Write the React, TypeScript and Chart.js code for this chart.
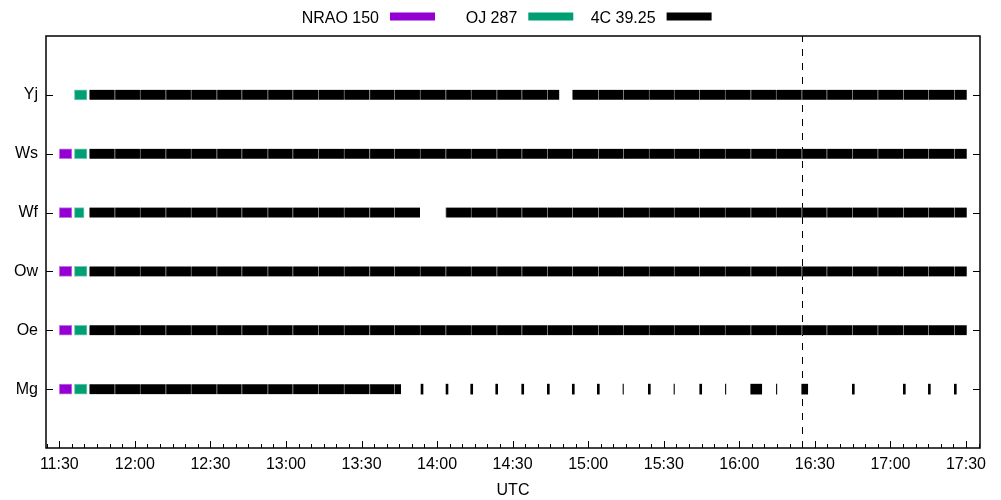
import { useEffect, useRef } from 'react';
import { Chart, registerables } from 'chart.js';

Chart.register(...registerables);

// ---- data ----
const stations = ['Yj', 'Ws', 'Wf', 'Ow', 'Oe', 'Mg']; // top to bottom
const xTickLabels = ['11:30', '12:00', '12:30', '13:00', '13:30', '14:00', '14:30', '15:00', '15:30', '16:00', '16:30', '17:00', '17:30'];
const xMinTime = '11:24:43';
const xMaxTime = '17:35:34';
const markerTime = '16:25:00';

const sourceNames = ['NRAO 150', 'OJ 287', '4C 39.25'];
const sourceColors = ['#9400d3', '#009e73', '#000000'];

const nrao150Stations = ['Ws', 'Wf', 'Ow', 'Oe', 'Mg'];
const nrao150Scan = ['11:30:00', '11:35:00'];

const oj287Stations = ['Yj', 'Ws', 'Wf', 'Ow', 'Oe', 'Mg'];
const oj287Ends = ['11:41:00', '11:41:00', '11:39:50', '11:41:00', '11:41:00', '11:41:00'];
const oj287Start = '11:36:00';

const scanStarts4C = [
  '11:41:55', '11:52:00', '12:02:03', '12:12:15', '12:22:17', '12:32:30', '12:42:25', '12:52:45',
  '13:02:40', '13:12:50', '13:23:02', '13:33:10', '13:43:01', '13:53:13', '14:03:25', '14:13:28',
  '14:23:41', '14:33:36', '14:43:46', '14:53:41', '15:04:01', '15:13:57', '15:24:09', '15:34:05',
  '15:44:07', '15:54:20', '16:04:32', '16:14:35', '16:24:47', '16:34:43', '16:44:52', '16:54:58',
  '17:05:08', '17:15:04', '17:25:23',
];
const lastScanEnd4C = '17:30:18';

const wfMissedScans = ['13:53:13'];
const yjCutScan = ['14:43:46', '14:48:32'];
const mgLastFullScan = '13:33:10';
const mgCutScan = ['13:43:01', '13:45:41'];
const mgShortScans = [
  ['13:53:37', '13:54:25'], ['14:03:33', '14:04:20'], ['14:13:21', '14:14:09'], ['14:23:17', '14:24:04'],
  ['14:33:36', '14:34:24'], ['14:43:46', '14:44:34'], ['14:53:41', '14:54:29'], ['15:03:37', '15:04:25'],
  ['15:13:49', '15:13:59'], ['15:23:52', '15:24:40'], ['15:34:04', '15:34:14'], ['15:44:17', '15:45:04'],
  ['15:54:29', '15:54:39'], ['16:04:32', '16:08:54'], ['16:14:44', '16:14:54'], ['16:24:47', '16:27:10'],
  ['16:44:52', '16:45:40'], ['17:05:08', '17:05:55'], ['17:15:04', '17:15:51'], ['17:25:23', '17:26:10'],
];

// ---- helpers ----
const toMin = (t: string) => {
  const p = t.split(':').map(Number);
  return p[0] * 60 + p[1] + (p[2] || 0) / 60 - (11 * 60 + 30);
};
const rowOf = (st: string) => stations.length - stations.indexOf(st);

function scansFor(st: string): [string, string][] {
  const out: [string, string][] = [];
  for (let i = 0; i < scanStarts4C.length; i++) {
    const s = scanStarts4C[i];
    const e = i + 1 < scanStarts4C.length ? scanStarts4C[i + 1] : lastScanEnd4C;
    if (st === 'Wf' && wfMissedScans.includes(s)) continue;
    if (st === 'Yj' && s === yjCutScan[0]) { out.push([s, yjCutScan[1]]); continue; }
    if (st === 'Mg') {
      if (toMin(s) <= toMin(mgLastFullScan)) out.push([s, e]);
      else if (s === mgCutScan[0]) out.push([s, mgCutScan[1]]);
      continue;
    }
    out.push([s, e]);
  }
  return out;
}

const FONT = "'Liberation Sans', Arial, Helvetica, sans-serif";

export default function App() {
  const ref = useRef<HTMLCanvasElement | null>(null);

  useEffect(() => {
    document.body.style.margin = '0';
    const canvas = ref.current;
    if (!canvas) return;

    const nraoData = nrao150Stations.map((st) => ({ x: [toMin(nrao150Scan[0]), toMin(nrao150Scan[1])], y: rowOf(st) }));
    const ojData = oj287Stations.map((st, i) => ({ x: [toMin(oj287Start), toMin(oj287Ends[i])], y: rowOf(st) }));
    const c4Data: any[] = [];
    stations.forEach((st) => {
      scansFor(st).forEach(([s, e]) => c4Data.push({ x: [toMin(s), toMin(e)], y: rowOf(st) }));
    });
    const c4Short = mgShortScans.map(([s, e]) => ({ x: [toMin(s), toMin(e)], y: rowOf('Mg') }));

    const frame = {
      id: 'frame',
      beforeDatasetsDraw(chart: any) {
        const { ctx, chartArea, scales } = chart;
        const x = Math.round(scales.x.getPixelForValue(toMin(markerTime))) + 0.5;
        ctx.save();
        ctx.strokeStyle = '#000';
        ctx.lineWidth = 1;
        ctx.setLineDash([7, 7]);
        ctx.beginPath();
        ctx.moveTo(x, chartArea.bottom);
        ctx.lineTo(x, chartArea.top);
        ctx.stroke();
        ctx.restore();
      },
      afterDraw(chart: any) {
        const { ctx, chartArea, scales } = chart;
        const { left, right, top, bottom } = chartArea;
        ctx.save();
        ctx.strokeStyle = '#000';
        ctx.lineWidth = 1;
        ctx.beginPath();
        // x ticks (inward, bottom)
        xTickLabels.forEach((l) => {
          const px = Math.round(scales.x.getPixelForValue(toMin(l))) + 0.5;
          ctx.moveTo(px, bottom);
          ctx.lineTo(px, bottom - 7);
        });
        for (let m = Math.ceil(toMin(xMinTime) / 5) * 5; m <= toMin(xMaxTime); m += 5) {
          if (m % 30 === 0) continue;
          const px = Math.round(scales.x.getPixelForValue(m)) + 0.5;
          ctx.moveTo(px, bottom);
          ctx.lineTo(px, bottom - 4);
        }
        // y ticks (inward, both sides)
        stations.forEach((st) => {
          const py = Math.round(scales.y.getPixelForValue(rowOf(st))) + 0.5;
          ctx.moveTo(left, py);
          ctx.lineTo(left + 7, py);
          ctx.moveTo(right, py);
          ctx.lineTo(right - 7, py);
        });
        ctx.stroke();
        ctx.lineWidth = 1.5;
        ctx.strokeRect(Math.round(left), Math.round(top), Math.round(right) - Math.round(left), Math.round(bottom) - Math.round(top));
        // legend
        ctx.font = `16px ${FONT}`;
        ctx.textAlign = 'right';
        ctx.textBaseline = 'alphabetic';
        const cx = (left + right) / 2;
        sourceNames.forEach((name, i) => {
          const x0 = cx - 123 + i * 138.3;
          ctx.fillStyle = '#000';
          ctx.fillText(name, x0 - 11, 22.5);
          ctx.fillStyle = sourceColors[i];
          ctx.fillRect(x0, 12.5, 45, 8);
        });
        ctx.restore();
      },
    };

    const chart = new Chart(canvas, {
      type: 'bar',
      data: {
        datasets: [
          {
            label: sourceNames[0], data: nraoData as any, backgroundColor: sourceColors[0],
            borderColor: 'rgba(148,0,211,0.55)', borderWidth: 1, borderSkipped: false,
            grouped: false, barThickness: 10,
          } as any,
          {
            label: sourceNames[1], data: ojData as any, backgroundColor: sourceColors[1],
            borderColor: 'rgba(0,158,115,0.55)', borderWidth: 1, borderSkipped: false,
            grouped: false, barThickness: 10,
          } as any,
          {
            label: sourceNames[2], data: c4Data, backgroundColor: sourceColors[2],
            borderColor: '#7a7a7a', borderWidth: { left: 1, right: 0, top: 0, bottom: 0 }, borderSkipped: false,
            grouped: false, barThickness: 10,
          } as any,
          {
            label: sourceNames[2] + ' short', data: c4Short, backgroundColor: sourceColors[2],
            borderWidth: 0, grouped: false, barThickness: 10,
          } as any,
        ],
      },
      options: {
        indexAxis: 'y',
        animation: false,
        responsive: false,
        maintainAspectRatio: false,
        layout: { padding: { top: 36, right: 21, left: 0, bottom: 0 } },
        plugins: { legend: { display: false }, tooltip: { enabled: false } },
        scales: {
          x: {
            type: 'linear',
            min: toMin(xMinTime),
            max: toMin(xMaxTime),
            offset: false,
            grid: { display: false, drawTicks: false },
            border: { display: false },
            ticks: {
              padding: 7,
              color: '#000',
              font: { family: FONT, size: 16 },
              maxRotation: 0,
              autoSkip: false,
              callback: (v: any) => xTickLabels.find((l) => Math.abs(toMin(l) - Number(v)) < 1e-6) ?? '',
            },
            afterBuildTicks: (s: any) => { s.ticks = xTickLabels.map((l) => ({ value: toMin(l) })); },
            afterFit: (s: any) => { s.height = 52; },
            title: { display: true, text: 'UTC', color: '#000', font: { family: FONT, size: 16 }, padding: { top: 0, bottom: 0 } },
          },
          y: {
            type: 'linear',
            min: 0,
            max: 7,
            offset: false,
            grid: { display: false, drawTicks: false, offset: false },
            border: { display: false },
            ticks: {
              padding: 8,
              color: '#000',
              font: { family: FONT, size: 16 },
              autoSkip: false,
              callback: (v: any) => stations[stations.length - Number(v)] ?? '',
            },
            afterBuildTicks: (s: any) => { s.ticks = stations.map((st) => ({ value: rowOf(st) })); },
            afterFit: (s: any) => { s.width = 46; },
          },
        },
      } as any,
      plugins: [frame],
    });
    return () => chart.destroy();
  }, []);

  return <canvas ref={ref} width={1001} height={500} style={{ display: 'block' }} />;
}
